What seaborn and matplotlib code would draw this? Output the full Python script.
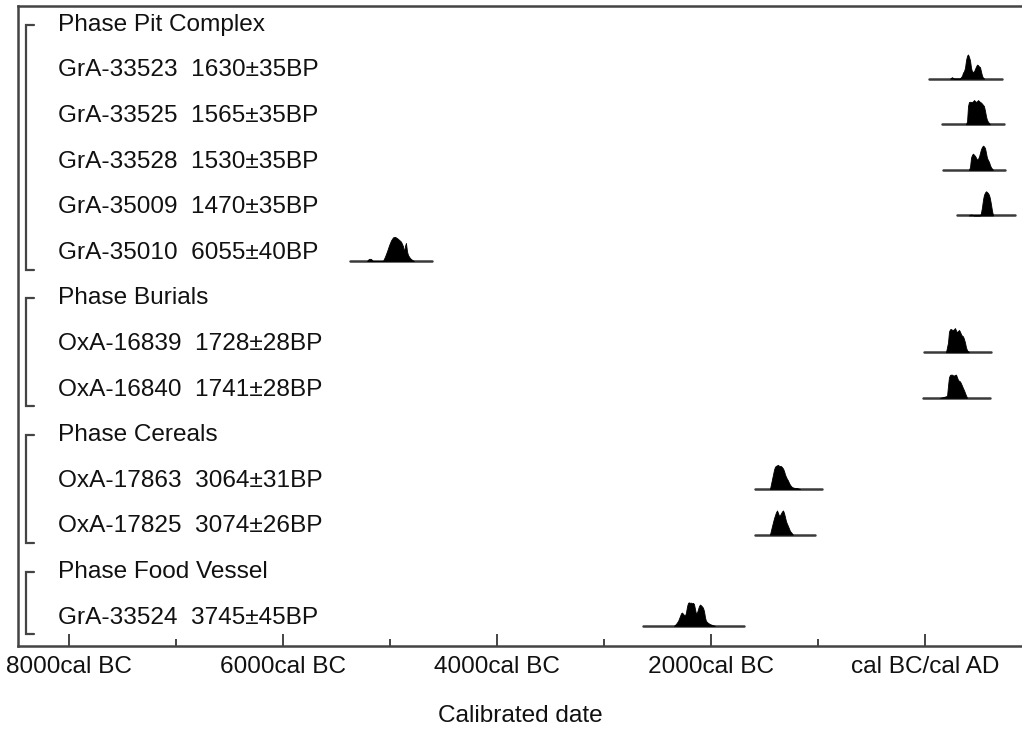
import numpy as np
import pandas as pd
import matplotlib
matplotlib.use("Agg")
import matplotlib.pyplot as plt
import matplotlib.transforms as mtransforms
import seaborn as sns

# ---- data -------------------------------------------------------------
phases = ["Pit Complex", "Burials", "Cereals", "Food Vessel"]
phase_sizes = [5, 2, 2, 1]

lab_codes = ["GrA-33523", "GrA-33525", "GrA-33528", "GrA-35009", "GrA-35010",
             "OxA-16839", "OxA-16840", "OxA-17863", "OxA-17825", "GrA-33524"]
bp_ages = [1630, 1565, 1530, 1470, 6055, 1728, 1741, 3064, 3074, 3745]
bp_errors = [35, 35, 35, 35, 40, 28, 28, 31, 26, 45]

# extent of the range line under each distribution (cal years, BC negative)
range_start = [37, 159, 168, 299, -5374, -9, -19, -1589, -1589, -2636]
range_end = [720, 738, 748, 841, -4608, 617, 607, -963, -1028, -1692]

# calibrated probability profiles (relative probability, peak = 1)
gra33523_year = [234, 252, 271, 327, 336, 346, 355, 364, 374, 383, 393, 402, 411,
                 421, 430, 439, 449, 458, 467, 477, 486, 495, 505, 514, 523, 533, 542, 552]
gra33523_prob = [0, 0.06, 0, 0, 0.06, 0.12, 0.25, 0.3, 0.45, 0.75, 0.95, 1.0, 0.9,
                 0.75, 0.45, 0.3, 0.28, 0.3, 0.4, 0.5, 0.58, 0.56, 0.5, 0.48, 0.3, 0.12, 0.04, 0]

gra33525_year = [383, 393, 402, 411, 421, 430, 439, 449, 458, 467, 477, 486, 495,
                 505, 514, 523, 533, 542, 551, 561, 570, 579, 589, 607]
gra33525_prob = [0, 0.12, 0.75, 0.92, 0.93, 0.92, 0.92, 0.95, 1.0, 0.96, 0.92, 0.95, 1.0,
                 0.96, 0.92, 0.9, 0.85, 0.8, 0.75, 0.55, 0.33, 0.18, 0.1, 0]

gra33528_year = [411, 421, 430, 439, 449, 458, 467, 477, 486, 495, 505, 514, 523,
                 533, 542, 551, 561, 570, 579, 589, 598, 607, 617, 636]
gra33528_prob = [0, 0.12, 0.5, 0.62, 0.67, 0.62, 0.58, 0.5, 0.42, 0.45, 0.55, 0.7, 0.85,
                 0.95, 1.0, 0.97, 0.9, 0.7, 0.5, 0.4, 0.33, 0.2, 0.1, 0]

gra35009_year = [411, 421, 430, 439, 458, 514, 523, 533, 542, 551, 561, 570, 579,
                 589, 598, 607, 617, 626, 636]
gra35009_prob = [0, 0.03, 0.04, 0.03, 0, 0, 0.1, 0.35, 0.65, 0.85, 0.95, 1.0, 0.97,
                 0.92, 0.85, 0.7, 0.45, 0.2, 0]

gra35010_year = [-5215, -5197, -5178, -5160, -5066, -5047, -5028, -5009, -4991, -4972,
                 -4953, -4935, -4916, -4897, -4879, -4869, -4860, -4851, -4841, -4832,
                 -4813, -4794, -4776]
gra35010_prob = [0, 0.09, 0.09, 0, 0, 0.18, 0.4, 0.65, 0.85, 0.98,
                 1.0, 0.95, 0.88, 0.8, 0.62, 0.38, 0.62, 0.75, 0.4, 0.25,
                 0.12, 0.05, 0]

oxa16839_year = [196, 215, 224, 234, 243, 252, 262, 271, 280, 290, 299, 308, 318,
                 327, 336, 346, 355, 364, 374, 383, 393, 411]
oxa16839_prob = [0, 0.4, 0.85, 0.95, 0.96, 0.93, 0.92, 0.95, 1.0, 0.9, 0.82, 0.88, 0.92,
                 0.85, 0.75, 0.68, 0.66, 0.55, 0.4, 0.2, 0.08, 0]

oxa16840_year = [140, 178, 206, 215, 224, 234, 243, 252, 262, 271, 280, 290, 299,
                 308, 318, 327, 336, 346, 355, 364, 374, 383, 393]
oxa16840_prob = [0, 0.04, 0.08, 0.5, 0.85, 0.95, 0.96, 0.96, 0.93, 0.92, 0.95, 0.96, 0.85,
                 0.75, 0.7, 0.68, 0.6, 0.5, 0.4, 0.32, 0.2, 0.1, 0]

oxa17863_year = [-1449, -1430, -1411, -1402, -1393, -1383, -1374, -1364, -1355, -1346,
                 -1336, -1327, -1318, -1308, -1299, -1290, -1280, -1271, -1262, -1252,
                 -1243, -1224, -1196, -1168]
oxa17863_prob = [0, 0.4, 0.8, 0.92, 0.96, 0.98, 1.0, 0.96, 0.95, 0.95,
                 0.9, 0.85, 0.75, 0.6, 0.5, 0.42, 0.35, 0.25, 0.18, 0.12,
                 0.08, 0.05, 0.04, 0]

oxa17825_year = [-1449, -1430, -1411, -1393, -1383, -1374, -1364, -1355, -1346, -1336,
                 -1327, -1318, -1308, -1299, -1290, -1280, -1271, -1262, -1252, -1234]
oxa17825_prob = [0, 0.35, 0.68, 0.92, 1.0, 0.9, 0.78, 0.8, 0.88, 0.96,
                 1.0, 0.9, 0.72, 0.55, 0.45, 0.35, 0.25, 0.15, 0.1, 0]

gra33524_year = [-2346, -2327, -2308, -2290, -2280, -2271, -2262, -2252, -2243, -2234,
                 -2224, -2215, -2206, -2196, -2187, -2178, -2168, -2159, -2150, -2140,
                 -2131, -2122, -2112, -2103, -2094, -2084, -2075, -2065, -2056, -2047,
                 -2028, -2009, -1991, -1963]
gra33524_prob = [0, 0.08, 0.2, 0.4, 0.52, 0.55, 0.5, 0.45, 0.42, 0.55,
                 0.8, 0.95, 0.97, 0.95, 0.96, 0.93, 0.95, 0.9, 0.7, 0.5,
                 0.55, 0.68, 0.82, 0.88, 0.85, 0.8, 0.75, 0.6, 0.35, 0.2,
                 0.12, 0.07, 0.04, 0]

profile_years = [gra33523_year, gra33525_year, gra33528_year, gra35009_year, gra35010_year,
                 oxa16839_year, oxa16840_year, oxa17863_year, oxa17825_year, gra33524_year]
profile_probs = [gra33523_prob, gra33525_prob, gra33528_prob, gra35009_prob, gra35010_prob,
                 oxa16839_prob, oxa16840_prob, oxa17863_prob, oxa17825_prob, gra33524_prob]

major_ticks = [-8000, -6000, -4000, -2000, 0]
minor_ticks = [-7000, -5000, -3000, -1000]
tick_labels = ["8000cal BC", "6000cal BC", "4000cal BC", "2000cal BC", "cal BC/cal AD"]
x_label = "Calibrated date"

# ---- layout helpers ---------------------------------------------------
sns.set_theme(style="ticks")
plt.rcParams["font.family"] = ["Liberation Sans", "DejaVu Sans"]

# row index for each phase heading and each sample
phase_rows, sample_rows = [], []
row = 0
for n in phase_sizes:
    phase_rows.append(row)
    row += 1
    for _ in range(n):
        sample_rows.append(row)
        row += 1

base_off = 0.22      # range line sits slightly below the text line
peak_h = 0.53        # height of a full-probability peak, in rows
fs = 17.6

fig = plt.figure(figsize=(10.22, 7.31), dpi=100)
W, H = 1022, 731
ax = fig.add_axes([18 / W, 85 / H, (W - 18) / W, (646 - 6) / H])

ink = "#000000"
line_grey = "#3a3a3a"

# range lines via seaborn
rl = pd.DataFrame({
    "year": [v for s, e in zip(range_start, range_end) for v in (s, e)],
    "row": [r + base_off for r in sample_rows for _ in (0, 1)],
    "sample": [c for c in lab_codes for _ in (0, 1)],
})
sns.lineplot(data=rl, x="year", y="row", units="sample", estimator=None,
             sort=False, color=line_grey, lw=1.8, ax=ax, legend=False)

# probability distributions
for yrs, prob, r in zip(profile_years, profile_probs, sample_rows):
    yrs = np.asarray(yrs, float)
    prob = np.asarray(prob, float)
    base = r + base_off
    ax.fill_between(yrs, base, base - prob * peak_h, color=ink, lw=0.6,
                    edgecolor=ink, zorder=3)

# text lines
xtxt = mtransforms.blended_transform_factory(ax.transAxes, ax.transData)
tx = (58 - 18) / (W - 18)
for name, r in zip(phases, phase_rows):
    ax.text(tx, r + 0.04, f"Phase {name}", transform=xtxt, va="center", ha="left",
            fontsize=fs, color="#111111")
for code, age, err, r in zip(lab_codes, bp_ages, bp_errors, sample_rows):
    ax.text(tx, r + 0.04, f"{code}  {age}\u00b1{err}BP", transform=xtxt, va="center",
            ha="left", fontsize=fs, color="#111111")

# phase brackets
bx0, bx1 = (26 - 18) / (W - 18), (34 - 18) / (W - 18)
for start, n in zip(phase_rows, phase_sizes):
    top = start + 0.04
    bot = start + n + 0.41
    ax.plot([bx1, bx0, bx0, bx1], [top, top, bot, bot], transform=xtxt,
            color="#444444", lw=1.6, clip_on=False, solid_joinstyle="miter")

# axes, scale, ticks
row_px = 45.6
ax.set_ylim((646 - 23) / row_px, (6 - 23) / row_px)
ax.set_xlim((18 - 925) * 1000 / 107, (W - 925) * 1000 / 107)
ax.set_yticks([])
ax.set_ylabel("")
ax.set_xticks(major_ticks)
ax.set_xticklabels(tick_labels, fontsize=fs, color="#111111")
ax.set_xticks(minor_ticks, minor=True)
ax.tick_params(axis="x", which="major", direction="in", length=9, width=1.4,
               color="#444444", pad=7)
ax.tick_params(axis="x", which="minor", direction="in", length=5, width=1.4,
               color="#444444")
ax.set_xlabel(x_label, fontsize=fs, color="#111111", labelpad=20)

for side in ("left", "bottom", "top"):
    ax.spines[side].set_visible(True)
    ax.spines[side].set_color("#444444")
    ax.spines[side].set_linewidth(1.8)
ax.spines["right"].set_visible(False)
ax.set_facecolor("white")
fig.patch.set_facecolor("white")

fig.savefig("out.png", dpi=100, facecolor="white")
